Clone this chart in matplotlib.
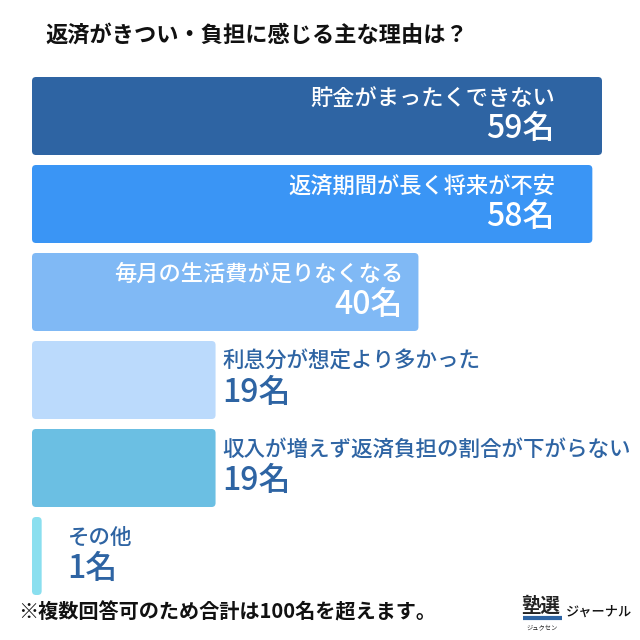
import matplotlib
matplotlib.use("Agg")
import matplotlib.pyplot as plt
from matplotlib.patches import FancyBboxPatch

plt.rcParams['font.family'] = ['Noto Sans CJK JP', 'DejaVu Sans']

# ---- data ----
title = "返済がきつい・負担に感じる主な理由は？"
categories = ["貯金がまったくできない", "返済期間が長く将来が不安", "毎月の生活費が足りなくなる",
              "利息分が想定より多かった", "収入が増えず返済負担の割合が下がらない", "その他"]
values = [59, 58, 40, 19, 19, 1]
unit = "名"
footnote = "※複数回答可のため合計は100名を超えます。"

# ---- styles / layout ----
colors = ["#2E64A3", "#3A95F5", "#80B9F5", "#BBDAFC", "#6BBFE3", "#8ADFEF"]
label_inside = [True, True, True, False, False, False]
text_dark = "#2E64A3"
W = H = 640
x0 = 32            # px where bars start
scale = 570 / 59   # px per unit
centers = [116, 204, 292, 380, 468, 556]
bar_h = 78

fig = plt.figure(figsize=(6.4, 6.4), dpi=100)
fig.patch.set_facecolor("white")
ax = fig.add_axes([0, 0, 1, 1])
ax.set_xlim(-x0 / scale, (W - x0) / scale)
ax.set_ylim(H, 0)
ax.axis("off")

bars = ax.barh(centers, values, height=bar_h, color=colors)
r_px = 4
for b, c in zip(bars, colors):
    x, y = b.get_x(), b.get_y()
    w, h = b.get_width(), b.get_height()
    b.set_visible(False)
    p = FancyBboxPatch((x, y), w, h,
                       boxstyle=f"round,pad=0,rounding_size={r_px / scale}",
                       mutation_aspect=scale, facecolor=c, edgecolor="none")
    ax.add_patch(p)

inside_right_px = [555, 555, 403]
for i, (cat, v, cy) in enumerate(zip(categories, values, centers)):
    if label_inside[i]:
        xr = (inside_right_px[i] - x0) / scale
        ax.text(xr, cy - 18, cat, ha="right", va="center", color="white",
                fontsize=16, fontweight="medium")
        ax.text(xr, cy + 13, f"{v}{unit}", ha="right", va="center", color="white",
                fontsize=23, fontweight="medium")
    else:
        off = 7 if v > 5 else 26
        xl = v + off / scale
        ax.text(xl, cy - 18, cat, ha="left", va="center", color=text_dark,
                fontsize=15.5, fontweight="medium")
        ax.text(xl, cy + 13, f"{v}{unit}", ha="left", va="center", color=text_dark,
                fontsize=23, fontweight="medium")

# title
fig.text(45 / W, 1 - 35 / H, title, ha="left", va="center", fontsize=16,
         fontweight="bold", color="#111111")
# footnote
fig.text(18 / W, 1 - 612 / H, footnote, ha="left", va="center", fontsize=14.5,
         fontweight="bold", color="#111111")
# logo
fig.text(521 / W, 1 - 606 / H, "塾選", ha="left", va="center", fontsize=14,
         fontweight="bold", color="#222222")
ax.plot([(523 - x0) / scale, (562 - x0) / scale], [618, 618], color="#2E64A3", lw=3,
        solid_capstyle="butt")
fig.text(542 / W, 1 - 627 / H, "ジュクセン", ha="center", va="center", fontsize=4.5,
         color="#222222")
fig.text(566 / W, 1 - 612 / H, "ジャーナル", ha="left", va="center", fontsize=9.5,
         fontweight="medium", color="#111111")

fig.savefig("out.png", dpi=100, facecolor="white")
